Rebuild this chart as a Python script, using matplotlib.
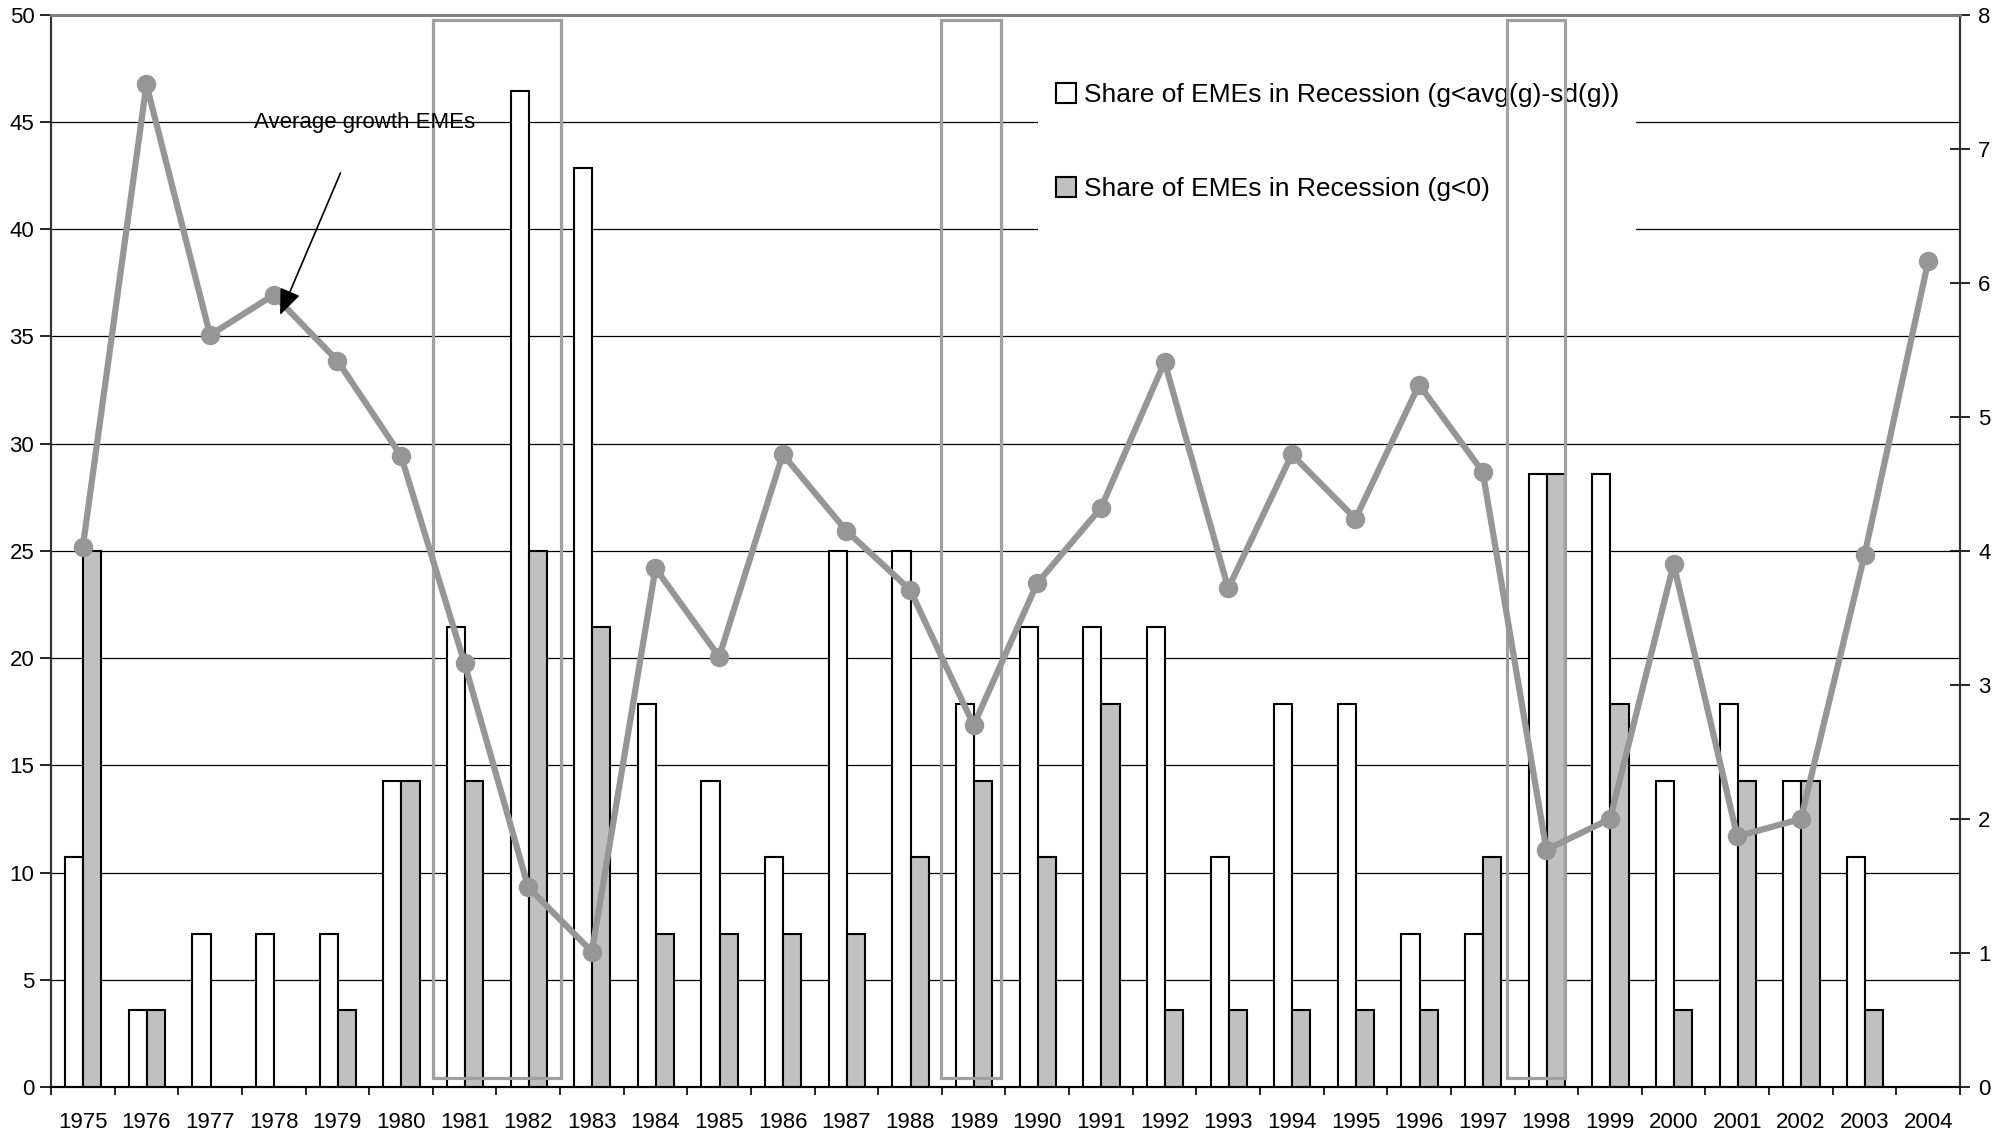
import numpy as np
import matplotlib
matplotlib.use('Agg')
import matplotlib.pyplot as plt
from matplotlib.patches import Rectangle, Patch

plt.rcParams['font.family'] = ['Liberation Sans', 'DejaVu Sans']

# ===== Data =====
years = [str(y) for y in range(1975, 2005)]

# share of EMEs in recession, g < avg(g) - sd(g)  (percent)
share_sd = [10.71, 3.57, 7.14, 7.14, 7.14, 14.29, 21.43, 46.43, 42.86, 17.86,
            14.29, 10.71, 25.00, 25.00, 17.86, 21.43, 21.43, 21.43, 10.71, 17.86,
            17.86, 7.14, 7.14, 28.57, 28.57, 14.29, 17.86, 14.29, 10.71, 0.0]

# share of EMEs in recession, g < 0  (percent)
share_neg = [25.00, 3.57, 0.0, 0.0, 3.57, 14.29, 14.29, 25.00, 21.43, 7.14,
             7.14, 7.14, 7.14, 10.71, 14.29, 10.71, 17.86, 3.57, 3.57, 3.57,
             3.57, 3.57, 10.71, 28.57, 17.86, 3.57, 14.29, 14.29, 3.57, 0.0]

# average growth of EMEs (right axis)
avg_growth = [4.03, 7.48, 5.61, 5.91, 5.42, 4.71, 3.16, 1.49, 1.01, 3.87,
              3.21, 4.72, 4.15, 3.71, 2.70, 3.76, 4.32, 5.41, 3.72, 4.72,
              4.24, 5.24, 4.59, 1.77, 2.00, 3.90, 1.87, 2.00, 3.97, 6.16]

# highlighted crisis episodes (category index span)
crisis_spans = [(5.5, 7.52), (13.49, 14.43), (22.38, 23.30)]

x = np.arange(len(years))

# ===== Figure =====
W, H = 2015, 1137
fig = plt.figure(figsize=(W / 100, H / 100), dpi=100)
ax = fig.add_axes([0.0253, 0.044, 0.9474, 0.943])
ax2 = ax.twinx()

w = 0.285
ax.bar(x - 0.135, share_sd, w, color='white', edgecolor='black', linewidth=1.5, zorder=3)
ax.bar(x + 0.15, share_neg, w, color='#c0c0c0', edgecolor='black', linewidth=1.5, zorder=3)

for a, b in crisis_spans:
    ax.add_patch(Rectangle((a, 0.4), b - a, 49.35, fill=False, edgecolor='#a0a0a0',
                           linewidth=2.3, zorder=6))

ax2.plot(x, avg_growth, color='#969696', linewidth=4.5, marker='o', markersize=13, zorder=5)

# annotation
ax2.text(2.69, 7.2, 'Average growth EMEs', fontsize=16, ha='left', va='center')
ax2.annotate('', xy=(3.1, 5.76), xytext=(4.05, 6.82), zorder=7,
             arrowprops=dict(arrowstyle='-|>,head_length=1.6,head_width=0.65',
                             color='black', lw=1.2, shrinkA=0, shrinkB=0))

# axes
ax.set_xlim(-0.5, len(years) - 0.5)
ax.set_ylim(0, 50)
ax2.set_ylim(0, 8)
ax.set_yticks(np.arange(0, 51, 5))
ax2.set_yticks(np.arange(0, 9, 1))
ax.set_xticks(x)
ax.set_xticklabels(years)
ax.set_xticks(np.arange(-0.5, len(years), 1), minor=True)
ax.tick_params(axis='x', which='major', length=0, labelsize=16, pad=18)
ax.tick_params(axis='x', which='minor', length=6, width=1.2, direction='out')
ax.tick_params(axis='y', length=8, width=1.2, labelsize=16, pad=4)
ax2.tick_params(axis='y', length=14, width=1.2, direction='inout', labelsize=16, pad=6)

ax.yaxis.grid(True, color='black', linewidth=0.9, zorder=0)
ax.set_axisbelow(True)

for a_ in (ax, ax2):
    a_.spines['top'].set_color('#808080')
    a_.spines['top'].set_linewidth(2)
    a_.spines['left'].set_linewidth(1.5)
    a_.spines['bottom'].set_linewidth(1.5)
    a_.spines['right'].set_linewidth(1.5)
    a_.spines['left'].set_color('#333333')
    a_.spines['right'].set_color('#333333')

# white legend area hiding the grid lines
ax.add_patch(Rectangle((1038 / W, 1 - 285 / H), (1636 - 1038) / W, (285 - 45) / H,
                       transform=fig.transFigure, facecolor='white', edgecolor='none', zorder=1))

handles = [Patch(facecolor='white', edgecolor='black', linewidth=1.5),
           Patch(facecolor='#c0c0c0', edgecolor='black', linewidth=1.5)]
labels = ['Share of EMEs in Recession (g<avg(g)-sd(g))', 'Share of EMEs in Recession (g<0)']
leg = ax.legend(handles, labels, loc='upper left', bbox_to_anchor=(1043 / W, 1 - 70 / H),
                bbox_transform=fig.transFigure, fontsize=19, frameon=False, borderpad=0,
                labelspacing=2.65, handlelength=0.75, handleheight=0.75, handletextpad=0.3)
leg.set_zorder(5)

fig.savefig('out.png', dpi=100)
